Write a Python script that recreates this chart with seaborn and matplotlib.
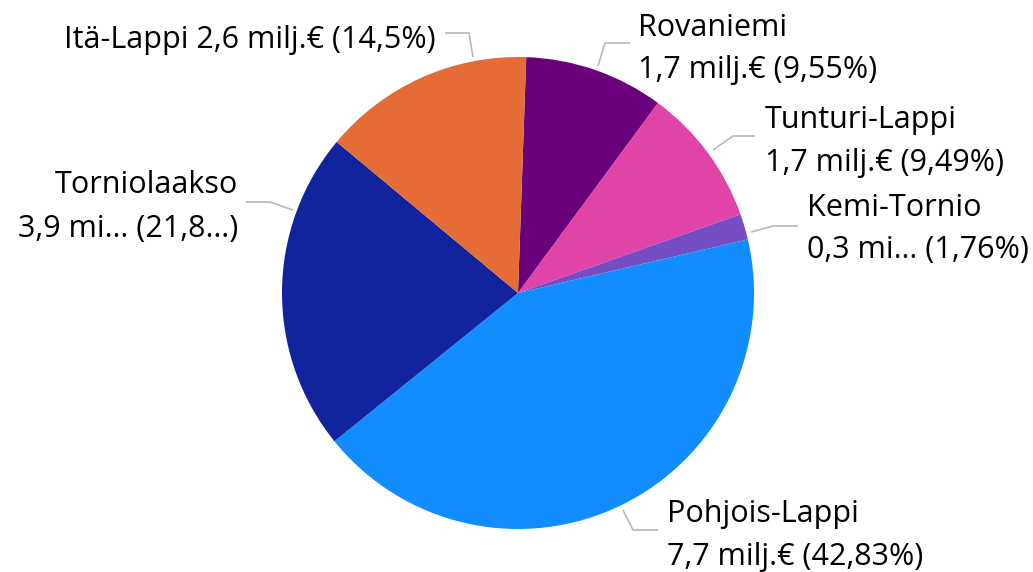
import matplotlib
matplotlib.use("Agg")
import matplotlib.pyplot as plt
import seaborn as sns

# ---- data ----
regions = ["Rovaniemi", "Tunturi-Lappi", "Kemi-Tornio", "Pohjois-Lappi", "Torniolaakso", "Itä-Lappi"]
shares = [9.55, 9.49, 1.76, 42.83, 21.87, 14.5]
value_labels = ["1,7 milj.€ (9,55%)", "1,7 milj.€ (9,49%)", "0,3 mi… (1,76%)",
                "7,7 milj.€ (42,83%)", "3,9 mi… (21,8…)", "2,6 milj.€ (14,5%)"]
colors = ["#6B007B", "#E044A7", "#744EC2", "#118DFF", "#12239E", "#E66C37"]

sns.set_theme(style="white")
plt.rcParams['font.family'] = ['Open Sans', 'DejaVu Sans']

W, H = 1033, 572
fig = plt.figure(figsize=(W / 100, H / 100), dpi=100)
ax = fig.add_axes([0, 0, 1, 1])

def Y(y):
    return H - y

ax.pie(shares, colors=sns.color_palette(colors), startangle=88, counterclock=False,
       center=(518, Y(293)), radius=236, frame=True,
       wedgeprops=dict(linewidth=0))
ax.set_xlim(0, W)
ax.set_ylim(0, H)
ax.set_aspect('equal')
ax.axis('off')

fs = 22
tc = "#000000"
lc = "#B8B8B8"
lw = 1.2

# label layout: (leader line pts in px, text x, align, baselines)
layout = {
    "Itä-Lappi": dict(line=[(473, 57), (469, 33), (445, 33)], x=436, ha="right", single=True, base=[48]),
    "Torniolaakso": dict(line=[(293, 210), (270, 202), (246, 202)], x=238, ha="right", single=False, base=[193, 237]),
    "Rovaniemi": dict(line=[(598, 66), (605, 43), (630, 43)], x=638, ha="left", single=False, base=[36, 78]),
    "Tunturi-Lappi": dict(line=[(713, 150), (733, 136), (755, 136)], x=765, ha="left", single=False, base=[128, 171]),
    "Kemi-Tornio": dict(line=[(751, 232), (773, 226), (798, 226)], x=807, ha="left", single=False, base=[216, 258]),
    "Pohjois-Lappi": dict(line=[(623, 510), (633, 530), (658, 530)], x=667, ha="left", single=False, base=[522, 565]),
}

for name, vlab in zip(regions, value_labels):
    L = layout[name]
    xs = [p[0] for p in L["line"]]
    ys = [Y(p[1]) for p in L["line"]]
    ax.plot(xs, ys, color=lc, lw=lw, solid_capstyle="butt")
    if L["single"]:
        ax.text(L["x"], Y(L["base"][0]), f"{name} {vlab}", ha=L["ha"], va="baseline",
                fontsize=fs, color=tc)
    else:
        ax.text(L["x"], Y(L["base"][0]), name, ha=L["ha"], va="baseline", fontsize=fs, color=tc)
        ax.text(L["x"], Y(L["base"][1]), vlab, ha=L["ha"], va="baseline", fontsize=fs, color=tc)

fig.savefig("out.png", dpi=100, facecolor="white")
